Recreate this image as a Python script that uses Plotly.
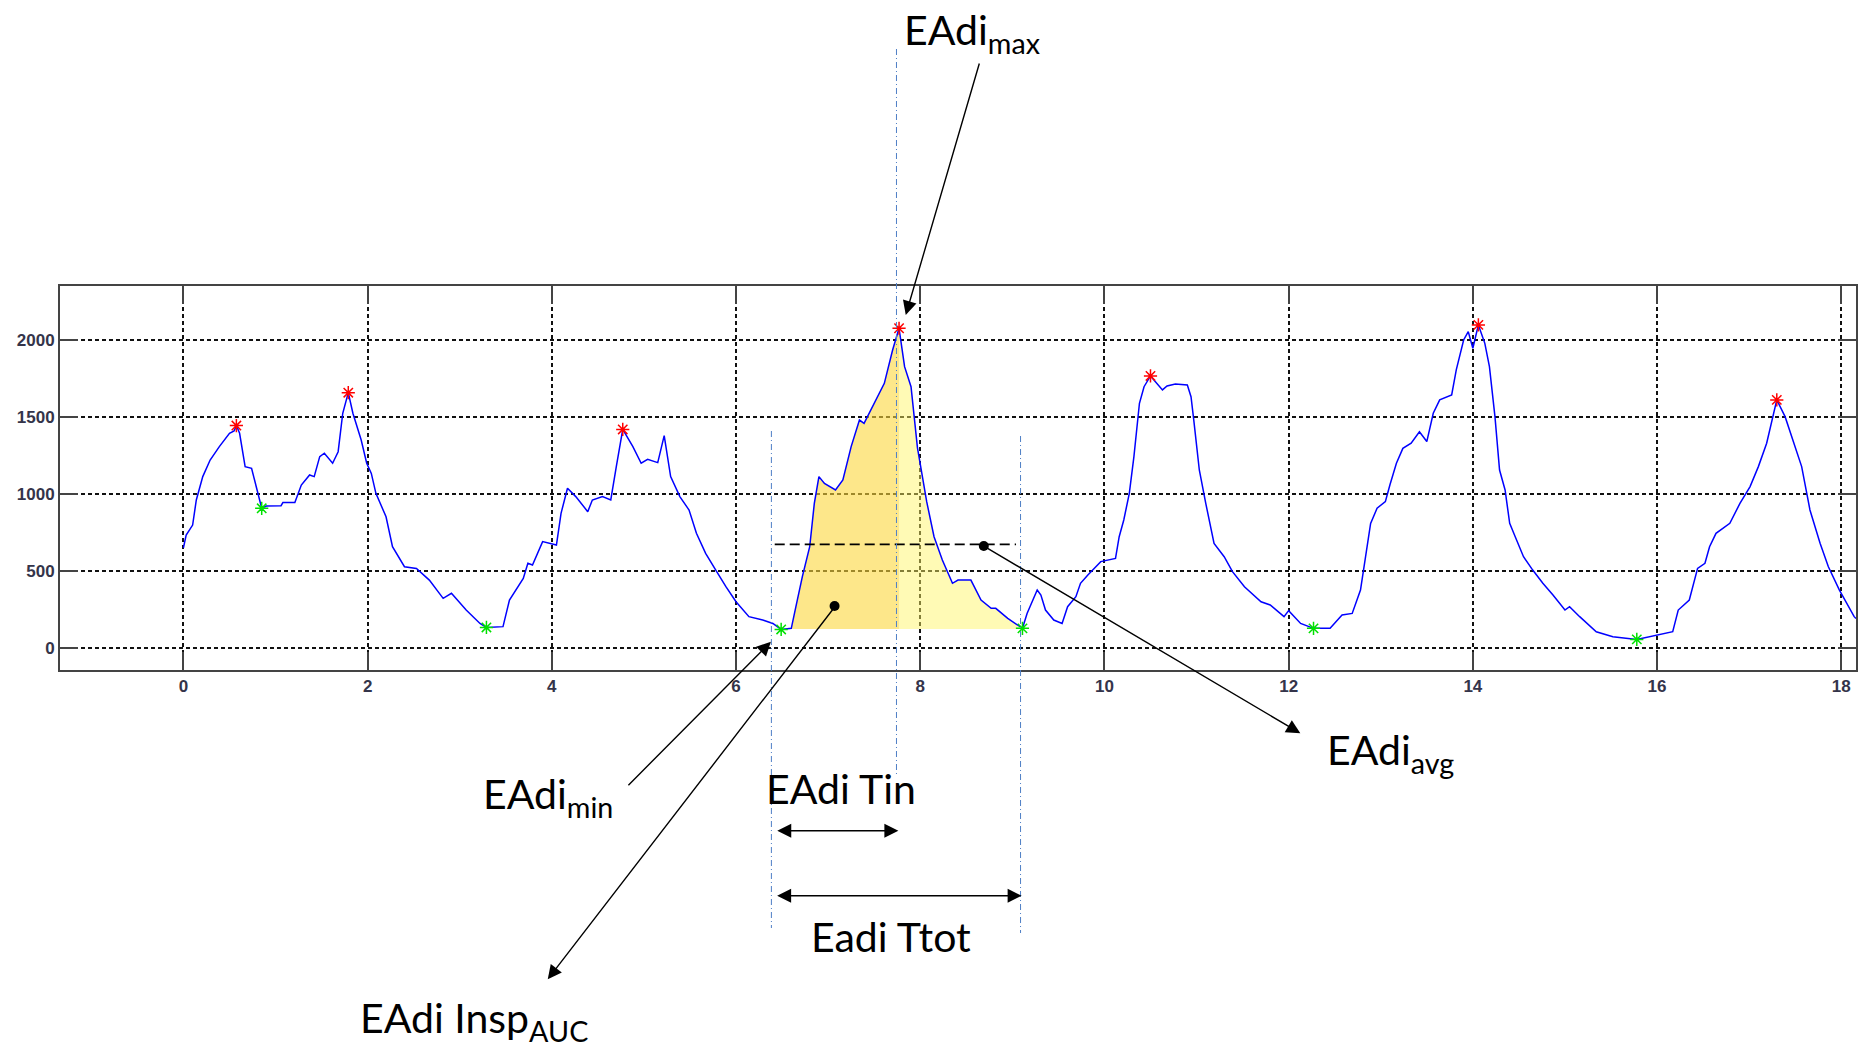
import plotly.graph_objects as go

# EAdi signal (time in s, amplitude)
time_s = [
    0.00, 0.03, 0.10, 0.14, 0.21, 0.29, 0.39, 0.50, 0.55, 0.575, 0.61, 0.67, 0.74, 0.79, 0.85,
    0.90, 1.06, 1.08, 1.21, 1.28, 1.37, 1.42, 1.48, 1.53, 1.62, 1.68, 1.73, 1.79, 1.84, 1.93,
    1.99, 2.04, 2.09, 2.20, 2.27, 2.40, 2.53, 2.67, 2.82, 2.91, 3.07, 3.22, 3.29, 3.47, 3.54,
    3.69, 3.74, 3.79, 3.90, 4.05, 4.10, 4.17, 4.26, 4.39, 4.44, 4.55, 4.64, 4.70, 4.77, 4.88,
    4.97, 5.04, 5.15, 5.22, 5.29, 5.39, 5.49, 5.57, 5.67, 5.78, 5.89, 6.00, 6.14, 6.29, 6.40,
    6.49, 6.60, 6.65, 6.72, 6.80, 6.85, 6.90, 6.96, 7.08, 7.16, 7.25, 7.34, 7.39, 7.48, 7.61,
    7.70, 7.77, 7.83, 7.90, 7.97, 8.00, 8.07, 8.15, 8.24, 8.35, 8.41, 8.55, 8.66, 8.77, 8.82,
    8.95, 9.11, 9.16, 9.27, 9.31, 9.36, 9.45, 9.54, 9.60, 9.69, 9.74, 9.82, 9.96, 10.12, 10.16,
    10.21, 10.27, 10.32, 10.38, 10.43, 10.50, 10.58, 10.63, 10.68, 10.77, 10.90, 10.94, 10.97,
    11.03, 11.10, 11.19, 11.30, 11.39, 11.52, 11.70, 11.80, 11.95, 12.00, 12.13, 12.27, 12.45,
    12.58, 12.69, 12.78, 12.83, 12.89, 12.96, 13.05, 13.10, 13.17, 13.24, 13.33, 13.42, 13.50,
    13.57, 13.64, 13.77, 13.82, 13.90, 13.95, 14.00, 14.06, 14.13, 14.18, 14.24, 14.29, 14.35,
    14.40, 14.46, 14.55, 14.65, 14.76, 14.87, 15.00, 15.05, 15.16, 15.34, 15.52, 15.78, 15.99,
    16.17, 16.23, 16.35, 16.44, 16.52, 16.57, 16.64, 16.79, 16.90, 17.01, 17.10, 17.19, 17.24,
    17.30, 17.39, 17.50, 17.57, 17.66, 17.77, 17.86, 17.98, 18.14, 18.16,
]
eadi = [
    650, 733, 798, 961, 1113, 1221, 1308, 1395, 1410, 1445, 1395, 1178, 1167, 1048, 907,
    922, 924, 944, 944, 1058, 1124, 1113, 1243, 1265, 1200, 1275, 1525, 1659, 1525, 1351,
    1200, 1134, 1004, 852, 657, 527, 516, 440, 321, 354, 245, 158, 132, 137, 310,
    451, 549, 538, 690, 668, 874, 1037, 983, 885, 961, 983, 961, 1178, 1420, 1308,
    1200, 1225, 1204, 1380, 1113, 983, 896, 744, 614, 505, 397, 299, 202, 180, 158,
    119, 126, 267, 462, 657, 939, 1113, 1069, 1026, 1091, 1308, 1481, 1460, 1568, 1720,
    1937, 2078, 1828, 1698, 1300, 1200, 950, 722, 570, 419, 440, 440, 310, 256, 256,
    191, 126, 223, 375, 343, 245, 180, 158, 267, 332, 419, 473, 560, 581, 722,
    831, 1004, 1243, 1590, 1698, 1768, 1709, 1677, 1703, 1716, 1709, 1633, 1481,
    1156, 939, 679, 592, 495, 397, 299, 278, 202, 241, 158, 126, 126,
    213, 223, 375, 570, 809, 907, 950, 1060, 1200, 1297, 1330, 1405, 1341,
    1525, 1612, 1644, 1807, 2002, 2056, 1948, 2100, 1980, 1828, 1503, 1156, 1026,
    809, 722, 592, 505, 419, 343, 245, 267, 202, 104, 72, 54, 82,
    104, 245, 310, 516, 549, 657, 744, 809, 939, 1048, 1178, 1330, 1460,
    1612, 1503, 1308, 1178, 896, 679, 527, 375, 202, 190,
]

peak_t = [0.575, 1.79, 4.77, 7.77, 10.50, 14.06, 17.30]
peak_v = [1445, 1659, 1420, 2078, 1768, 2100, 1612]
trough_t = [0.85, 3.29, 6.49, 9.11, 12.27, 15.78]
trough_v = [907, 132, 119, 126, 126, 54]

# highlighted breath
insp_start, insp_peak, exp_end = 6.60, 7.77, 9.11
auc_base = 122
avg_t = [6.42, 9.04]
avg_v = [672, 672]
auc_dot = (7.07, 271)
avg_dot = (8.69, 662)
cursor_t = [6.384, 7.742, 9.089]

X_RANGE = [-1.34, 18.16]
Y_RANGE = [-145, 2353]

# plot area in page pixels
L, R, T, B = 60, 1858, 286, 670
W, H = 1862, 1051


def px_x(px):
    return (px - L) / (R - L)


def px_y(py):
    return (B - py) / (B - T)


def data_x(x):
    return (x - X_RANGE[0]) / (X_RANGE[1] - X_RANGE[0])


def area(t0, t1):
    xs = [t for t in time_s if t0 <= t <= t1]
    ys = [v for t, v in zip(time_s, eadi) if t0 <= t <= t1]
    return [xs[0]] + xs + [xs[-1]], [auc_base] + ys + [auc_base]


fig = go.Figure()

ax_, ay_ = area(insp_start, insp_peak)
fig.add_trace(go.Scatter(x=ax_, y=ay_, fill='toself', mode='none',
                         fillcolor='rgba(252,215,60,0.6)', hoverinfo='skip'))
ax_, ay_ = area(insp_peak, exp_end)
fig.add_trace(go.Scatter(x=ax_, y=ay_, fill='toself', mode='none',
                         fillcolor='rgba(255,245,100,0.48)', hoverinfo='skip'))

fig.add_trace(go.Scatter(x=time_s, y=eadi, mode='lines',
                         line=dict(color='#0000FF', width=1.5)))
fig.add_trace(go.Scatter(x=avg_t, y=avg_v, mode='lines',
                         line=dict(color='black', width=1.6, dash='10px,5px')))
fig.add_trace(go.Scatter(x=peak_t, y=peak_v, mode='markers',
                         marker=dict(symbol='asterisk-open', size=11, color='#FF0000',
                                     line=dict(color='#FF0000', width=1.5))))
fig.add_trace(go.Scatter(x=trough_t, y=trough_v, mode='markers',
                         marker=dict(symbol='asterisk-open', size=11, color='#00E000',
                                     line=dict(color='#00E000', width=1.5))))
fig.add_trace(go.Scatter(x=[auc_dot[0], avg_dot[0]], y=[auc_dot[1], avg_dot[1]],
                         mode='markers', marker=dict(color='black', size=10),
                         cliponaxis=False))

# dash-dot cursors
cursor_span = [(431, 928), (49, 775), (436, 933)]
for t, (y0, y1) in zip(cursor_t, cursor_span):
    fig.add_shape(type='line', xref='paper', yref='paper',
                  x0=data_x(t), x1=data_x(t), y0=px_y(y0), y1=px_y(y1),
                  line=dict(color='#4F7FC6', width=1, dash='6px,3px,1px,3px'))

arrow = dict(showarrow=True, arrowhead=2, arrowsize=2.0, arrowwidth=1.4,
             arrowcolor='black', text='', xref='paper', yref='paper')
# (head_x, head_y, tail_x, tail_y) in page pixels
pointers = [
    (906.7, 315, 980.7, 62),
    (771.7, 641.7, 627.7, 786.7),
    (548.3, 979.3, 836, 606),
    (1301.7, 733.3, 985, 546),
]
for hx, hy, tx, ty in pointers:
    fig.add_annotation(x=px_x(hx), y=px_y(hy), ax=tx - hx, ay=ty - hy, **arrow)

for hx, y, tx in [(899.3, 830.7, 776.7), (1022.7, 895.7, 776.7)]:
    fig.add_annotation(x=px_x(hx), y=px_y(y), ax=tx - hx, ay=0,
                       arrowside='end+start', **arrow)

label_font = dict(family='Lato', size=41, color='black')
labels = [
    ('EAdi<sub>max</sub>', 903, 32),
    ('EAdi<sub>min</sub>', 481, 796),
    ('EAdi Tin', 765, 788),
    ('Eadi Ttot', 810, 936),
    ('EAdi Insp<sub>AUC</sub>', 358, 1020),
    ('EAdi<sub>avg</sub>', 1326, 752),
]
for txt, lx, ly in labels:
    fig.add_annotation(text=txt, x=px_x(lx), y=px_y(ly), xref='paper', yref='paper',
                       xanchor='left', yanchor='middle', showarrow=False,
                       font=label_font)

axis_common = dict(
    showgrid=True, gridcolor='#111111', gridwidth=1.5, griddash='4px,3px',
    showline=True, linecolor='#444444', linewidth=2, mirror='ticks',
    ticks='inside', ticklen=18, tickwidth=1.5, tickcolor='#444444',
    zeroline=False,
    tickfont=dict(family='Liberation Sans, Arial', size=17, color='#34344a',
                  weight='bold'),
)
fig.update_xaxes(range=X_RANGE, tick0=0, dtick=2, **axis_common)
fig.update_yaxes(range=Y_RANGE, tick0=0, dtick=500, **axis_common)

fig.update_layout(
    width=W, height=H,
    margin=dict(l=L, r=W - R, t=T, b=H - B),
    paper_bgcolor='white', plot_bgcolor='white',
    showlegend=False,
)

fig.write_html('out.html', config={'displayModeBar': False},
               post_script="document.body.style.margin='0';document.body.style.overflow='hidden';")
